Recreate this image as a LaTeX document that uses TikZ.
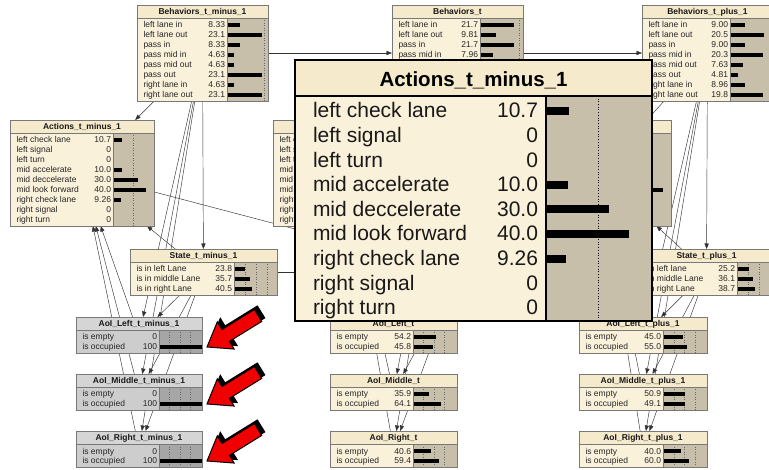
\documentclass[tikz,border=0pt]{standalone}
\usepackage{fontspec}
\setmainfont{Liberation Sans}
\usetikzlibrary{arrows.meta}
\pgfdeclarelayer{paper}
\pgfdeclarelayer{links}
\pgfsetlayers{paper,links,main}

% Netica-style palette
\definecolor{cbody}{RGB}{250,241,218}
\definecolor{ctitle}{RGB}{246,234,204}
\definecolor{cbar}{RGB}{199,191,170}
\definecolor{gbody}{RGB}{205,205,205}
\definecolor{gtitle}{RGB}{213,213,213}
\definecolor{gbar}{RGB}{166,166,166}
\definecolor{boxedge}{RGB}{120,120,120}
\definecolor{arrowred}{RGB}{240,0,0}

\tikzset{
  every node/.style={inner sep=0pt,outer sep=0pt},
  netnode/.style={anchor=north west,draw=none,inner sep=0pt,outer sep=0pt},
  sep/.style={draw=boxedge,line width=0.6pt},
  quart/.style={draw=black!60,dotted,line width=0.5pt},
  lbl/.style={font=\fontsize{8.5}{10}\selectfont,text=black!85},
  ttl/.style={font=\fontsize{8.5}{10}\selectfont\bfseries,text=black!90,anchor=base},
  big/.style={font=\fontsize{21}{25}\selectfont,text=black!90},
  bigttl/.style={font=\fontsize{20.5}{24}\selectfont\bfseries,text=black,anchor=base},
  link/.style={draw=black!80,line width=0.45pt,-{Triangle[length=5.5pt,width=4.2pt]}},
  redbody/.style={fill=arrowred,draw=black,line width=1pt,line join=miter},
  redshade/.style={fill=black,draw=black,line width=1pt,line join=miter}
}

% one belief-bar box: palette, name, x, y, width, divider, rows, px per percent, title
\newcommand\nbox[9]{%
  \gdef\nbN{#2}\gdef\nbX{#3}\gdef\nbY{#4}\gdef\nbD{#6}\gdef\nbK{#8}%
  \begin{scope}[shift={(#3,#4)}]
    \pgfmathsetmacro\nbH{16+10*#7}%
    \node[netnode,fill=#1body,minimum width=#5pt,minimum height=\nbH pt] (#2) at (0,0) {};
    \fill[#1title] (0,0) rectangle (#5,13);
    \fill[#1bar] (#6,13) rectangle (#5,\nbH);
    \foreach \q in {25,50,75}{%
      \pgfmathsetmacro\qx{#6+\q*#8}%
      \pgfmathtruncatemacro\qok{(\qx<#5-1)?1:0}%
      \ifnum\qok=1 \draw[quart] (\qx,13) -- (\qx,\nbH);\fi}
    \draw[sep] (0,13) -- (#5,13) (#6,13) -- (#6,\nbH);
    \draw[sep] (0,0) rectangle (#5,\nbH);
    \node[ttl] (#2-ttl) at (#5/2,10) {#9};
  \end{scope}}

% state rows of the last box: label/value/percent
\newcommand\nbrows[1]{%
  \begin{scope}[shift={(\nbX,\nbY)}]
    \foreach \lab/\val/\pct [count=\i] in {#1}{%
      \pgfmathsetmacro\ry{20+10*(\i-1)}%
      \node[lbl,anchor=base west] (\nbN-l\i) at (6.5,\ry+3) {\lab};
      \node[lbl,anchor=base east] (\nbN-v\i) at (\nbD-2,\ry+3) {\val};
      \pgfmathtruncatemacro\hasbar{(\pct>0)?1:0}%
      \ifnum\hasbar=1 \fill[black] (\nbD+0.6,\ry-2.2) rectangle (\nbD+0.6+\pct*\nbK,\ry+2.2);\fi}
  \end{scope}}

% red pointer: tip position, direction towards the tail
\newcommand\redpointer[2]{%
  \begin{scope}[shift={#1},shift={(3,-3.5)},rotate=#2]
    \path[redshade] (0,0) -- (22,16) -- (22,7) -- (60,7) -- (60,-7) -- (22,-7) -- (22,-16) -- cycle;
  \end{scope}
  \begin{scope}[shift={#1},rotate=#2]
    \path[redbody] (0,0) -- (22,16) -- (22,7) -- (60,7) -- (60,-7) -- (22,-7) -- (22,-16) -- cycle;
  \end{scope}}

\begin{document}
\begin{tikzpicture}[x=1pt,y=-1pt]
\useasboundingbox (0,0) rectangle (769,470);
\begin{pgfonlayer}{paper}
  \fill[white] (0,0) rectangle (769,470);
\end{pgfonlayer}
\clip (0,0) rectangle (769,470);

% ---- slice t-1
\nbox{c}{bm1}{137}{5}{131}{90}{8}{1.47}{Behaviors\_t\_minus\_1}
\nbrows{left lane in/8.33/8.33,left lane out/23.1/23.1,pass in/8.33/8.33,pass mid in/4.63/4.63,pass mid out/4.63/4.63,pass out/23.1/23.1,right lane in/4.63/4.63,right lane out/23.1/23.1}
\nbox{c}{am1}{10}{120}{144}{103}{9}{0.82}{Actions\_t\_minus\_1}
\nbrows{left check lane/10.7/10.7,left signal/0/0,left turn/0/0,mid accelerate/10.0/10.0,mid deccelerate/30.0/30.0,mid look forward/40.0/40.0,right check lane/9.26/9.26,right signal/0/0,right turn/0/0}
\nbox{c}{sm1}{130}{249}{147}{104}{3}{0.44}{State\_t\_minus\_1}
\nbrows{is in left Lane/23.8/23.8,is in middle Lane/35.7/35.7,is in right Lane/40.5/40.5}
\nbox{g}{alm1}{76}{317}{126}{83}{2}{0.42}{AoI\_Left\_t\_minus\_1}
\nbrows{is empty/0/0,is occupied/100/100}
\nbox{g}{amm1}{76}{374}{126}{83}{2}{0.42}{AoI\_Middle\_t\_minus\_1}
\nbrows{is empty/0/0,is occupied/100/100}
\nbox{g}{arm1}{76}{431}{126}{83}{2}{0.42}{AoI\_Right\_t\_minus\_1}
\nbrows{is empty/0/0,is occupied/100/100}

% ---- slice t
\nbox{c}{bt}{392}{5}{131}{88}{8}{1.56}{Behaviors\_t}
\nbrows{left lane in/21.7/21.7,left lane out/9.81/9.81,pass in/21.7/21.7,pass mid in/7.96/7.96}
\nbox{c}{at}{273}{120}{144}{103}{9}{0.82}{}
\nbrows{left c//0,left s//0,left t//0,mid//0,mid//0,mid//0,right//0,right//0,right//0}
\nbox{c}{st}{385}{249}{147}{104}{3}{0.44}{}
\nbox{c}{alt}{330}{317}{127}{83}{2}{0.42}{AoI\_Left\_t}
\nbrows{is empty/54.2/54.2,is occupied/45.8/45.8}
\nbox{c}{amt}{330}{374}{127}{83}{2}{0.42}{AoI\_Middle\_t}
\nbrows{is empty/35.9/35.9,is occupied/64.1/64.1}
\nbox{c}{art}{330}{431}{127}{83}{2}{0.42}{AoI\_Right\_t}
\nbrows{is empty/40.6/40.6,is occupied/59.4/59.4}

% ---- slice t+1
\nbox{c}{bp1}{642}{5}{131}{88}{8}{1.62}{Behaviors\_t\_plus\_1}
\nbrows{left lane in/9.00/9.00,left lane out/20.5/20.5,pass in/9.00/9.00,pass mid in/20.3/20.3,pass mid out/7.63/7.63,pass out/4.81/4.81,right lane in/8.96/8.96,right lane out/19.8/19.8}
\nbox{c}{ap1}{527}{120}{144}{103}{9}{0.82}{}
\nbrows{//0,//0,//0,//0,//0,//39,//0,//0,//0}
\nbox{c}{sp1}{633}{249}{147}{104}{3}{0.44}{State\_t\_plus\_1}
\nbrows{is in left lane/25.2/25.2,is in middle Lane/36.1/36.1,is in right Lane/38.7/38.7}
\nbox{c}{alp1}{579}{317}{128}{84}{2}{0.43}{AoI\_Left\_t\_plus\_1}
\nbrows{is empty/45.0/45.0,is occupied/55.0/55.0}
\nbox{c}{amp1}{579}{374}{128}{84}{2}{0.43}{AoI\_Middle\_t\_plus\_1}
\nbrows{is empty/50.9/50.9,is occupied/49.1/49.1}
\nbox{c}{arp1}{579}{431}{128}{84}{2}{0.43}{AoI\_Right\_t\_plus\_1}
\nbrows{is empty/40.0/40.0,is occupied/60.0/60.0}

% ---- links, centre to centre, kept behind the boxes
\begin{pgfonlayer}{links}
  \foreach \b/\a/\s/\l/\m/\r in {bm1/am1/sm1/alm1/amm1/arm1,bt/at/st/alt/amt/art,bp1/ap1/sp1/alp1/amp1/arp1}{%
    \draw[link] (\b) -- (\a);
    \draw[link] (\b) -- (\s);
    \draw[link] (\b) -- (\l);
    \draw[link] (\b) -- (\m);
    \draw[link] (\b) -- (\r);
    \draw[link] (\s) -- (\a);
    \draw[link] (\s) -- (\l);
    \draw[link] (\s) -- (\m);
    \draw[link] (\s) -- (\r);
    \draw[link] (\l) -- (\a);
    \draw[link] (\m) -- (\a);
    \draw[link] (\r) -- (\a);}
  \draw[link] (bm1) -- (bt);
  \draw[link] (bt) -- (bp1);
  \draw[link] (sm1) -- (st);
  \draw[link] (st) -- (sp1);
  \draw[link] (am1) -- (st);
  \draw[link] (at) -- (sp1);
\end{pgfonlayer}

% ---- enlarged view of Actions_t_minus_1
\begin{scope}[shift={(295,60)}]
  \node[netnode,fill=cbody,minimum width=357pt,minimum height=261pt] (pop) at (0,0) {};
  \fill[ctitle] (0,0) rectangle (357,36);
  \fill[cbar] (251,36) rectangle (357,261);
  \draw[black,dotted,line width=0.7pt] (303,36) -- (303,261);
  \foreach \lab/\val/\pct [count=\i] in {left check lane/10.7/10.7,left signal/0/0,left turn/0/0,mid accelerate/10.0/10.0,mid deccelerate/30.0/30.0,mid look forward/40.0/40.0,right check lane/9.26/9.26,right signal/0/0,right turn/0/0}{%
    \pgfmathsetmacro\ry{51+24.6*(\i-1)}%
    \node[big,anchor=base west] (pop-l\i) at (18,\ry+7) {\lab};
    \node[big,anchor=base east] (pop-v\i) at (243,\ry+7) {\val};
    \pgfmathtruncatemacro\hasbar{(\pct>0)?1:0}%
    \ifnum\hasbar=1 \fill[black] (252,\ry-4) rectangle (252+\pct*2.05,\ry+4);\fi}
  \draw[black,line width=1.6pt] (0,36) -- (357,36);
  \draw[black,line width=1.2pt] (251,36) -- (251,261);
  \draw[black,line width=1.8pt] (0,0) rectangle (357,261);
  \node[bigttl] (pop-ttl) at (178.5,27) {Actions\_t\_minus\_1};
\end{scope}

% ---- pointers at the observed AoI nodes
\redpointer{(207,347)}{31.7}
\redpointer{(207,404)}{31.7}
\redpointer{(207,461)}{31.7}
\end{tikzpicture}
\end{document}
